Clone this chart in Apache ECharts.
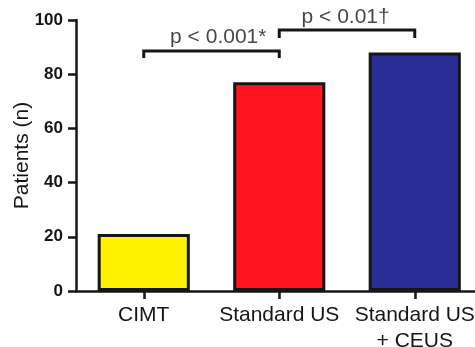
<!DOCTYPE html>
<html>
<head>
<meta charset="utf-8">
<script src="https://cdn.jsdelivr.net/npm/echarts@6/dist/echarts.min.js"></script>
<style>html,body{margin:0;padding:0;background:#fff}#c{width:475px;height:347px}</style>
</head>
<body>
<div id="c"></div>
<script>
const categories = ['CIMT', 'Standard US', 'Standard US\n+ CEUS'];
const patients = [21, 77, 88];
const barColors = ['#FFF200', '#FF1420', '#2B2D96'];
const yTicks = [0, 20, 40, 60, 80, 100];
// significance brackets
const bracketFrom = [0, 1];
const bracketTo = [1, 2];
const bracketTop = [88.6, 96.3];
const bracketLeg = [86.0, 93.4];
const bracketText = ['p < 0.001*', 'p < 0.01\u2020'];
const bracketTextX = [0.55, 1.49];
const bracketTextY = [89.6, 97.2];

const chart = echarts.init(document.getElementById('c'), null, {renderer: 'canvas'});
const font = '"Liberation Sans", Arial, Helvetica, sans-serif';
const ink = '#161616';

const bracketSeries = bracketFrom.map((f, i) => ({
  type: 'line',
  xAxisIndex: 1,
  data: [[f, bracketLeg[i]], [f, bracketTop[i]], [bracketTo[i], bracketTop[i]], [bracketTo[i], bracketLeg[i]]],
  symbol: 'none',
  lineStyle: {color: ink, width: 3, join: 'miter'},
  silent: true,
  animation: false,
  z: 5
}));

const textSeries = {
  type: 'scatter',
  xAxisIndex: 1,
  symbolSize: 0,
  silent: true,
  animation: false,
  data: bracketText.map((t, i) => ({value: [bracketTextX[i], bracketTextY[i]], name: t})),
  label: {
    show: true,
    position: 'top',
    distance: 0,
    formatter: p => p.name,
    color: ink,
    fontSize: 21,
    fontFamily: font
  }
};

chart.setOption({
  animation: false,
  grid: {left: 76, top: 20, bottom: 56, right: -7.5, containLabel: false, outerBoundsMode: 'none'},
  xAxis: [{
    type: 'category',
    data: categories,
    axisLine: {lineStyle: {color: ink, width: 2.5}},
    axisTick: {show: true, alignWithLabel: true, length: 8, lineStyle: {color: ink, width: 2.5}},
    axisLabel: {color: ink, fontSize: 21, fontFamily: font, margin: 11, lineHeight: 26, interval: 0}
  }, {
    type: 'value',
    min: -0.5,
    max: 2.5,
    show: false
  }],
  yAxis: {
    type: 'value',
    min: 0,
    max: 100,
    interval: 20,
    name: 'Patients (n)',
    nameLocation: 'middle',
    nameGap: 43,
    nameMoveOverlap: false,
    nameTextStyle: {color: ink, fontSize: 21, fontFamily: font},
    axisLine: {show: true, onZero: false, lineStyle: {color: ink, width: 2.5}},
    axisTick: {show: true, length: 8, lineStyle: {color: ink, width: 2.5}},
    splitLine: {show: false},
    axisLabel: {
      color: ink, fontSize: 17, fontWeight: 'bold', fontFamily: font, margin: 13,
      formatter: v => yTicks.includes(v) ? String(v) : ''
    }
  },
  series: [{
    type: 'bar',
    data: patients.map((v, i) => ({value: v, itemStyle: {color: barColors[i]}})),
    barCategoryGap: '32%',
    itemStyle: {borderColor: ink, borderWidth: 3},
    z: 3
  }].concat(bracketSeries, [textSeries])
});
</script>
</body>
</html>
